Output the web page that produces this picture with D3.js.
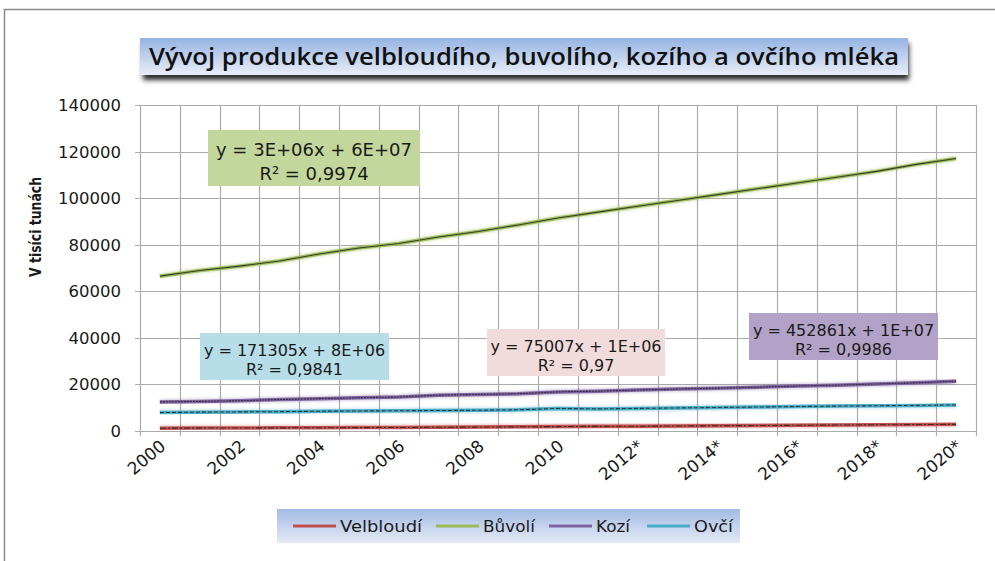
<!DOCTYPE html>
<html>
<head>
<meta charset="utf-8">
<script src="https://cdn.jsdelivr.net/npm/d3@7"></script>
<style>
  body { margin: 0; background: #fff; }
  svg { display: block; font-family: "DejaVu Sans", sans-serif; }
</style>
</head>
<body>
<div id="chart"></div>
<script>
// Chart data
const years = ['2000', '2001', '2002', '2003', '2004', '2005', '2006', '2007', '2008', '2009', '2010',
    '2011*', '2012*', '2013*', '2014*', '2015*', '2016*', '2017*', '2018*', '2019*', '2020*'];
const shownYears = ['2000', '2002', '2004', '2006', '2008', '2010', '2012*', '2014*', '2016*', '2018*', '2020*'];
const yTicks = [0, 20000, 40000, 60000, 80000, 100000, 120000, 140000];

const velbloudi = [1200, 1250, 1300, 1350, 1400, 1450, 1500, 1600, 1700, 1800, 1900,
    2000, 2050, 2150, 2250, 2350, 2450, 2550, 2650, 2750, 2850];
const buvoli = [66500, 68900, 70800, 73000, 76000, 78600, 80500, 83300, 85700, 88500, 91500,
    94000, 96500, 99000, 101500, 104000, 106500, 109000, 111500, 114500, 117000];
const kozi = [12500, 12700, 13000, 13500, 13900, 14300, 14600, 15400, 15700, 16000, 16800,
    17100, 17600, 18000, 18400, 18800, 19300, 19700, 20200, 20700, 21400];
const ovci = [7900, 8100, 8200, 8300, 8500, 8600, 8700, 8800, 8900, 9100, 9700,
    9500, 9700, 9900, 10100, 10300, 10500, 10700, 10850, 11000, 11200];

const seriesNames = ['Velbloudí', 'Bůvolí', 'Kozí', 'Ovčí'];
const seriesColors = ['#c0504d', '#9bbb59', '#8064a2', '#4bacc6'];
const trendDash = ['6,2,2,2', null, '2,1', '4,2'];
const seriesValues = [velbloudi, buvoli, kozi, ovci];

// Trendline labels (equation + R²)
const equations = [
    { eq: 'y = 75007x + 1E+06', r2: 'R² = 0,97', fill: '#f2dcdb', x: 487, y: 329, w: 178, h: 47, size: 16 },
    { eq: 'y = 3E+06x + 6E+07', r2: 'R² = 0,9974', fill: '#c3d69b', x: 208, y: 130, w: 212, h: 56, size: 18 },
    { eq: 'y = 452861x + 1E+07', r2: 'R² = 0,9986', fill: '#b3a2c7', x: 749, y: 313, w: 189, h: 47, size: 16 },
    { eq: 'y = 171305x + 8E+06', r2: 'R² = 0,9841', fill: '#b7dde8', x: 200, y: 333, w: 189, h: 47, size: 16 }
];

const width = 995;
const height = 561;

const svg = d3.select('#chart')
    .append('svg')
    .attr('width', width)
    .attr('height', height);

const defs = svg.append('defs');

const titleGrad = defs.append('linearGradient')
    .attr('id', 'titleGrad')
    .attr('x1', 0).attr('y1', 0).attr('x2', 0).attr('y2', 1);
titleGrad.append('stop').attr('offset', '0%').attr('stop-color', '#95b3e3');
titleGrad.append('stop').attr('offset', '100%').attr('stop-color', '#e9eef8');

const legendGrad = defs.append('linearGradient')
    .attr('id', 'legendGrad')
    .attr('x1', 0).attr('y1', 0).attr('x2', 0).attr('y2', 1);
legendGrad.append('stop').attr('offset', '0%').attr('stop-color', '#a3bbe4');
legendGrad.append('stop').attr('offset', '100%').attr('stop-color', '#e4eaf6');

defs.append('filter')
    .attr('id', 'shadow')
    .attr('x', '-5%').attr('y', '-30%').attr('width', '110%').attr('height', '180%')
    .append('feGaussianBlur')
    .attr('stdDeviation', 2.5);

defs.append('filter')
    .attr('id', 'glow')
    .append('feGaussianBlur')
    .attr('stdDeviation', 1.2);

// Outer chart border
svg.append('rect')
    .attr('x', 4.5)
    .attr('y', 9.5)
    .attr('width', 1000)
    .attr('height', 600)
    .attr('fill', 'none')
    .attr('stroke', '#8c8c8c')
    .attr('stroke-width', 1.5);

// Scales
const x = d3.scaleBand()
    .domain(years)
    .range([140, 976]);

const y = d3.scaleLinear()
    .domain([0, 140000])
    .range([431, 105]);

const bw = x.bandwidth();
const cx = d => x(d) + bw / 2;

// Grid
const grid = svg.append('g');
grid.selectAll('line.h')
    .data(yTicks)
    .enter()
    .append('line')
    .attr('x1', 135)
    .attr('x2', 976)
    .attr('y1', d => Math.round(y(d)) + 0.5)
    .attr('y2', d => Math.round(y(d)) + 0.5)
    .attr('stroke', '#ababab')
    .attr('stroke-width', 1.2);

grid.selectAll('line.v')
    .data(years.concat(['end']))
    .enter()
    .append('line')
    .attr('x1', d => Math.round(d === 'end' ? 976 : x(d)) + 0.5)
    .attr('x2', d => Math.round(d === 'end' ? 976 : x(d)) + 0.5)
    .attr('y1', 105)
    .attr('y2', 436)
    .attr('stroke', '#ababab')
    .attr('stroke-width', 1.2);

// Y tick labels
svg.append('g')
    .selectAll('text')
    .data(yTicks)
    .enter()
    .append('text')
    .attr('x', 121)
    .attr('y', d => y(d) + 6)
    .attr('text-anchor', 'end')
    .attr('font-size', 16.5)
    .attr('fill', '#1a1a1a')
    .text(d => d);

// X tick labels
svg.append('g')
    .selectAll('text')
    .data(shownYears)
    .enter()
    .append('text')
    .attr('transform', d => `translate(${cx(d) + 7},${448}) rotate(-40)`)
    .attr('text-anchor', 'end')
    .attr('font-size', 17)
    .attr('fill', '#1a1a1a')
    .text(d => d);

// Y axis title
svg.append('text')
    .attr('transform', 'translate(41,227) rotate(-90)')
    .attr('text-anchor', 'middle')
    .attr('font-size', 16)
    .attr('font-weight', 'bold')
    .attr('fill', '#1a1a1a')
    .attr('textLength', 100)
    .attr('lengthAdjust', 'spacingAndGlyphs')
    .text('V tisíci tunách');

// Series lines
const line = d3.line()
    .x((d, i) => cx(years[i]))
    .y(d => y(d));

const lines = svg.append('g');
seriesValues.forEach((vals, k) => {
    lines.append('path')
        .attr('d', line(vals))
        .attr('fill', 'none')
        .attr('stroke', seriesColors[k])
        .attr('stroke-width', 6)
        .attr('stroke-opacity', 0.3)
        .attr('filter', 'url(#glow)');
    lines.append('path')
        .attr('d', line(vals))
        .attr('fill', 'none')
        .attr('stroke', seriesColors[k])
        .attr('stroke-width', 3.5)
        .attr('stroke-linejoin', 'round');
    lines.append('path')
        .attr('d', line(vals))
        .attr('fill', 'none')
        .attr('stroke', '#1f1f1f')
        .attr('stroke-width', 1.1)
        .attr('stroke-opacity', 0.8)
        .attr('stroke-dasharray', trendDash[k]);
});

// Equation boxes
const eqG = svg.append('g')
    .selectAll('g')
    .data(equations)
    .enter()
    .append('g');

eqG.append('rect')
    .attr('x', d => d.x)
    .attr('y', d => d.y)
    .attr('width', d => d.w)
    .attr('height', d => d.h)
    .attr('fill', d => d.fill);

eqG.append('text')
    .attr('x', d => d.x + d.w / 2)
    .attr('y', d => d.y + d.h * 0.36 + d.size * 0.35)
    .attr('text-anchor', 'middle')
    .attr('font-size', d => d.size)
    .attr('fill', '#1a1a1a')
    .text(d => d.eq);

eqG.append('text')
    .attr('x', d => d.x + d.w / 2)
    .attr('y', d => d.y + d.h * 0.78 + d.size * 0.35)
    .attr('text-anchor', 'middle')
    .attr('font-size', d => d.size)
    .attr('fill', '#1a1a1a')
    .text(d => d.r2);

// Title
svg.append('rect')
    .attr('x', 143)
    .attr('y', 43)
    .attr('width', 766)
    .attr('height', 37)
    .attr('fill', '#2a2a2a')
    .attr('filter', 'url(#shadow)');

svg.append('rect')
    .attr('x', 140)
    .attr('y', 38)
    .attr('width', 768)
    .attr('height', 37)
    .attr('fill', 'url(#titleGrad)');

svg.append('text')
    .attr('x', 524)
    .attr('y', 65)
    .attr('text-anchor', 'middle')
    .attr('font-family', '"Open Sans", sans-serif')
    .attr('font-weight', 600)
    .attr('font-size', 23)
    .attr('fill', '#111')
    .attr('textLength', 750)
    .attr('lengthAdjust', 'spacingAndGlyphs')
    .text('Vývoj produkce velbloudího, buvolího, kozího a ovčího mléka');

// Legend
const legend = svg.append('g');
legend.append('rect')
    .attr('x', 277)
    .attr('y', 509)
    .attr('width', 463)
    .attr('height', 34)
    .attr('fill', 'url(#legendGrad)');

const legendX = [293, 436, 549, 647];
const legendW = [82, 52, 34, 39];
seriesNames.forEach((name, k) => {
    legend.append('line')
        .attr('x1', legendX[k])
        .attr('x2', legendX[k] + 43)
        .attr('y1', 526)
        .attr('y2', 526)
        .attr('stroke', seriesColors[k])
        .attr('stroke-width', 3);
    legend.append('text')
        .attr('x', legendX[k] + 47)
        .attr('y', 532)
        .attr('font-size', 16)
        .attr('fill', '#1a1a1a')
        .attr('textLength', legendW[k])
        .attr('lengthAdjust', 'spacingAndGlyphs')
        .text(name);
});
</script>
</body>
</html>
